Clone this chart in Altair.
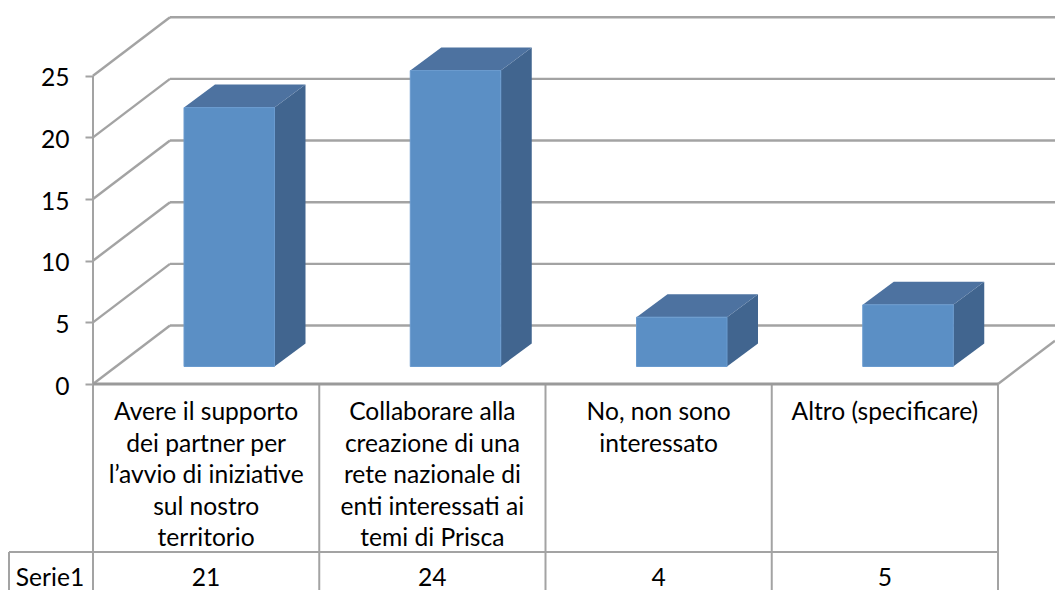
import altair as alt
import pandas as pd

categories = [
    ["Avere il supporto", "dei partner per", "l’avvio di iniziative", "sul nostro", "territorio"],
    ["Collaborare alla", "creazione di una", "rete nazionale di", "enti interessati ai", "temi di Prisca"],
    ["No, non sono", "interessato"],
    ["Altro (specificare)"],
]
values = [21, 24, 4, 5]
series_name = "Serie1"
ticks = [0, 5, 10, 15, 20, 25]

PX_X = 226.25
PX_Y = 12.33
GRID = "#A3A3A3"
FONT = "Lato"
FS = 24.6

def ux(px): return px / PX_X
def uy(px): return px / PX_Y

n = len(values)
wall_dx, wall_dy = ux(77), uy(58.5)
bar_off, bar_w = ux(91), ux(90.5)
bar_dx, bar_dy = ux(31), uy(23)
bar_base = uy(17.5)
xmax = ux(962)
ymax = uy(376)
table_y1, table_y2 = uy(-168), uy(-206)

xs = alt.Scale(domain=[0, xmax], nice=False, zero=False)
ys = alt.Scale(domain=[0, ymax], nice=False, zero=False)
y_axis = alt.Axis(
    values=ticks, title=None, grid=False, domain=False, tickColor=GRID, tickWidth=2,
    tickSize=8, labelFont=FONT, labelFontSize=FS, labelColor="#000000", labelPadding=16,
    labelOffset=3, format="d")
X = lambda f="x": alt.X(f"{f}:Q", scale=xs, axis=None, stack=None)
Y = lambda f="y": alt.Y(f"{f}:Q", scale=ys, axis=y_axis, stack=None)

# walls
wall = []
for t in ticks:
    wall += [{"g": f"d{t}", "x": 0, "y": t}, {"g": f"d{t}", "x": wall_dx, "y": t + wall_dy},
             {"g": f"b{t}", "x": wall_dx, "y": t + wall_dy}, {"g": f"b{t}", "x": xmax, "y": t + wall_dy}]
k = (xmax - n) / wall_dx
wall += [{"g": "r", "x": n, "y": 0}, {"g": "r", "x": xmax, "y": k * wall_dy}]
walls = alt.Chart(pd.DataFrame(wall)).mark_line(color=GRID, strokeWidth=2.4).encode(
    x=X(), y=Y(), detail="g:N")

# lines of the table
rules_v = pd.DataFrame(
    [{"x": i, "y": 0, "y2": table_y2} for i in range(n + 1)]
    + [{"x": ux(-84), "y": table_y1, "y2": table_y2}]
    + [{"x": 0, "y": 0, "y2": 25}])
vrules = alt.Chart(rules_v).mark_rule(color=GRID, strokeWidth=2).encode(x=X(), y=Y(), y2="y2:Q")
hr = pd.DataFrame([{"x": ux(-84), "x2": n, "y": table_y1}])
hrule = alt.Chart(hr).mark_rule(color=GRID, strokeWidth=2).encode(x=X(), x2="x2:Q", y=Y())
floor = alt.Chart(pd.DataFrame([{"x": 0, "x2": n, "y": 0}])).mark_rule(color="#9A9A9A", strokeWidth=3).encode(
    x=X(), x2="x2:Q", y=Y())

# bars
front, side, top = [], [], []
for i, v in enumerate(values):
    x0 = i + bar_off
    x1 = x0 + bar_w
    yt = v + bar_base
    front.append({"x": x0, "x2": x1, "y": bar_base, "y2": yt})
    side += [{"g": i, "o": 0, "x": x1, "y": yt, "y2": bar_base},
             {"g": i, "o": 1, "x": x1 + bar_dx, "y": yt + bar_dy, "y2": bar_base + bar_dy}]
    top += [{"g": i, "o": 0, "y": yt, "x": x0, "x2": x1},
            {"g": i, "o": 1, "y": yt + bar_dy, "x": x0 + bar_dx, "x2": x1 + bar_dx}]

front_l = alt.Chart(pd.DataFrame(front)).mark_rect(color="#5B8FC5", stroke="#6A9BCF", strokeWidth=1).encode(
    x=X(), x2="x2:Q", y=Y(), y2="y2:Q")
side_l = alt.Chart(pd.DataFrame(side)).mark_area(color="#41658F", interpolate="linear", orient="vertical").encode(
    x=X(), y=Y(), y2="y2:Q", detail="g:N")
top_l = alt.Chart(pd.DataFrame(top)).mark_area(color="#4D72A0", interpolate="linear", orient="horizontal").encode(
    y=Y(), x=X(), x2="x2:Q", detail="g:N")

# table texts
cat_df = pd.DataFrame([{"x": i + 0.5, "y": uy(-17), "t": "\n".join(c)} for i, c in enumerate(categories)])
cat_text = alt.Chart(cat_df).mark_text(font=FONT, fontSize=FS, baseline="top", align="center",
                                       lineBreak="\n", lineHeight=31.6, color="#000000").encode(
    x=X(), y=Y(), text="t:N")
val_df = pd.DataFrame([{"x": i + 0.5, "y": uy(-195), "t": str(v)} for i, v in enumerate(values)]
                      + [{"x": ux(-43), "y": uy(-195), "t": series_name}])
val_text = alt.Chart(val_df).mark_text(font=FONT, fontSize=FS, baseline="middle", align="center",
                                       color="#000000").encode(x=X(), y=Y(), text="t:N")

chart = alt.layer(walls, vrules, hrule, floor, side_l, top_l, front_l, cat_text, val_text).properties(
    width=962, height=376,
    autosize=alt.AutoSizeParams(type="none"),
    padding={"left": 85, "top": 0, "right": 0, "bottom": 206},
).configure_view(stroke=None)

chart.save("out.html", embed_options={"renderer": "svg", "actions": False})
